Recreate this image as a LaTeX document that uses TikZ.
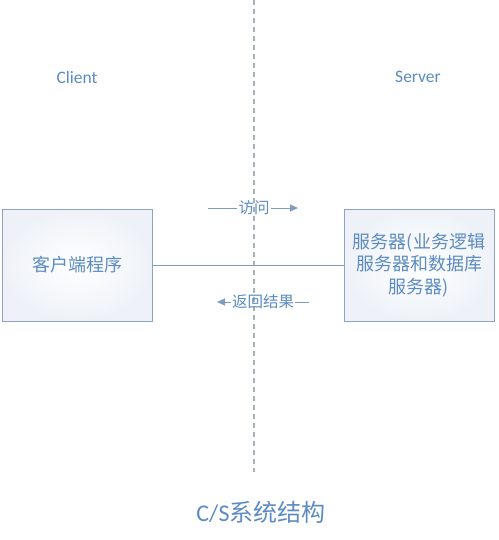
\documentclass[tikz,border=0pt]{standalone}
\usepackage{fontspec}
\setmainfont{Carlito}
\newfontfamily\cjk{Noto Sans CJK SC}
\usetikzlibrary{arrows.meta}
\definecolor{txtblue}{HTML}{5B8BC2}
\definecolor{boxline}{HTML}{8FA3BA}
\definecolor{boxedge}{HTML}{EEF2F8}
\definecolor{dashgray}{HTML}{A8B0B8}
\definecolor{linegray}{HTML}{7E9CC0}
\tikzset{
  sysbox/.style={draw=boxline, line width=0.9pt, minimum width=150pt, minimum height=112pt,
    inner color=white, outer color=boxedge, text=txtblue, align=center,
    font=\cjk\fontsize{18}{22.5}\selectfont},
  sidelabel/.style={text=txtblue, font=\fontsize{17.5}{20}\selectfont},
  msg/.style={text=txtblue, inner sep=1pt, font=\cjk\fontsize{15.5}{18}\selectfont},
  conn/.style={draw=linegray, line width=0.9pt},
  arr/.style={conn, -{Triangle[length=8pt,width=7pt]}}
}
\begin{document}
\begin{tikzpicture}[x=1pt,y=-1pt]
\useasboundingbox (0,0) rectangle (498,540);
\draw[dashgray, line width=1.4pt, dash pattern=on 5pt off 4pt] (254,0) -- (254,472);
\node[sidelabel] (client) at (77,77) {Client};
\node[sidelabel] (server) at (418,77) {Server};
\node[sysbox] (cbox) at (77,265) {客户端程序};
\node[sysbox] (sbox) at (419,265) {服务器(业务逻辑\\服务器和数据库\\服务器)};
\draw[conn] (cbox.east) -- (sbox.west);
\node[msg] (visit) at (254,208) {访问};
\coordinate (v1) at (208,208);
\coordinate (v2) at (298,208);
\draw[conn] (v1) -- (visit.west);
\draw[arr] (visit.east) -- (v2);
\node[msg] (ret) at (263,302) {返回结果};
\coordinate (r1) at (217,302);
\coordinate (r2) at (309,302);
\draw[conn] (r2) -- (ret.east);
\draw[arr] (ret.west) -- (r1);
\node[text=txtblue] (title) at (261,512) {\fontsize{24}{28}\selectfont C/S{\cjk 系统结构}};
\end{tikzpicture}
\end{document}
